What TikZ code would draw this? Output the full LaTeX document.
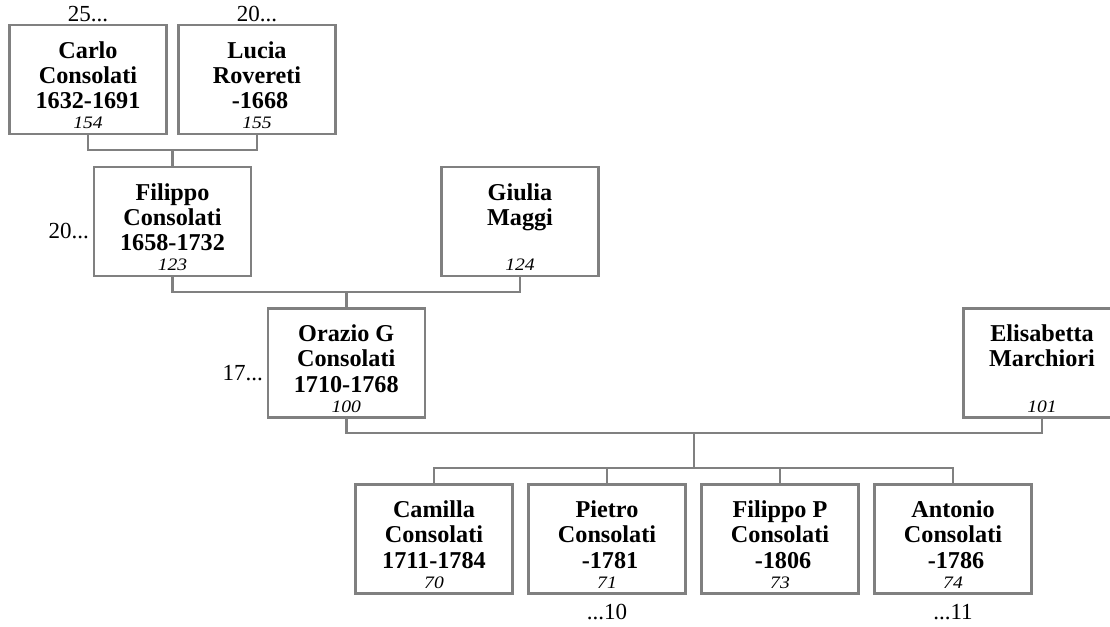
\documentclass[tikz,border=0pt]{standalone}
\usepackage{fontspec}
\usepackage{graphicx}
\setmainfont{Liberation Serif}
\definecolor{lineg}{RGB}{128,128,128}
\newcommand\pcard[4]{%
  \parbox[c][109pt][t]{157pt}{\centering\fontsize{24.2}{25.25}\selectfont\bfseries
  \rule{0pt}{33pt}#1\\#2\\#3\\[-5.25pt]{\mdseries\itshape\fontsize{17.5}{25.25}\selectfont \scalebox{1.12}[1]{#4}\par}}}
\tikzset{
  card/.style={draw=lineg, line width=2.5pt, inner sep=0pt, outer sep=0pt, fill=white},
  conn/.style={draw=lineg, line width=2.5pt},
  more/.style={inner sep=0pt, font=\fontsize{23}{26}\selectfont}
}
\begin{document}
\begin{tikzpicture}[x=1pt,y=-1pt]
\useasboundingbox (0,0) rectangle (1110,626);
% generation 1
\node[card] (carlo) at (88,79.5) {\pcard{Carlo}{Consolati}{1632-1691}{154}};
\node[card] (lucia) at (257,79.5) {\pcard{Lucia}{Rovereti}{\hspace*{.25em}-1668}{155}};
% generation 2
\node[card] (filippo) at (172.5,221.5) {\pcard{Filippo}{Consolati}{1658-1732}{123}};
\node[card] (giulia) at (520,221.5) {\pcard{Giulia}{Maggi}{\mbox{}}{124}};
% generation 3
\node[card] (orazio) at (346.25,363) {\pcard{Orazio G}{Consolati}{1710-1768}{100}};
\node[card] (eli) at (1042,363) {\pcard{Elisabetta}{Marchiori}{\mbox{}}{101}};
% children
\node[card] (camilla) at (434,539) {\pcard{Camilla}{Consolati}{1711-1784}{70}};
\node[card] (pietro) at (607,539) {\pcard{Pietro}{Consolati}{\hspace*{.25em}-1781}{71}};
\node[card] (filippop) at (780,539) {\pcard{Filippo P}{Consolati}{\hspace*{.25em}-1806}{73}};
\node[card] (antonio) at (953,539) {\pcard{Antonio}{Consolati}{\hspace*{.25em}-1786}{74}};
% junctions
\coordinate (m1) at (172.5,150);
\coordinate (m2) at (346.25,292);
\coordinate (m3) at (694,433);
\coordinate (c3) at (694,468);
% connectors
\draw[conn] (carlo.south) |- (m1) -| (lucia.south);
\draw[conn] (m1) -- (filippo.north);
\draw[conn] (filippo.south) |- (m2) -| (giulia.south);
\draw[conn] (m2) -- (orazio.north);
\draw[conn] (orazio.south) |- (m3) -| (eli.south);
\draw[conn] (m3) -- (c3);
\draw[conn] (camilla.north) |- (c3) -| (antonio.north);
\draw[conn] (pietro.north) -- (pietro.north |- c3);
\draw[conn] (filippop.north) -- (filippop.north |- c3);
% continuation labels
\node[more, anchor=base] (up1) at (88,22) {25...};
\node[more, anchor=base] (up2) at (257,22) {20...};
\node[more, anchor=base east] (sib1) at (89,238) {20...};
\node[more, anchor=base east] (sib2) at (263,380) {17...};
\node[more, anchor=base] (dn1) at (607,619) {...10};
\node[more, anchor=base] (dn2) at (953,619) {...11};
\end{tikzpicture}
\end{document}
